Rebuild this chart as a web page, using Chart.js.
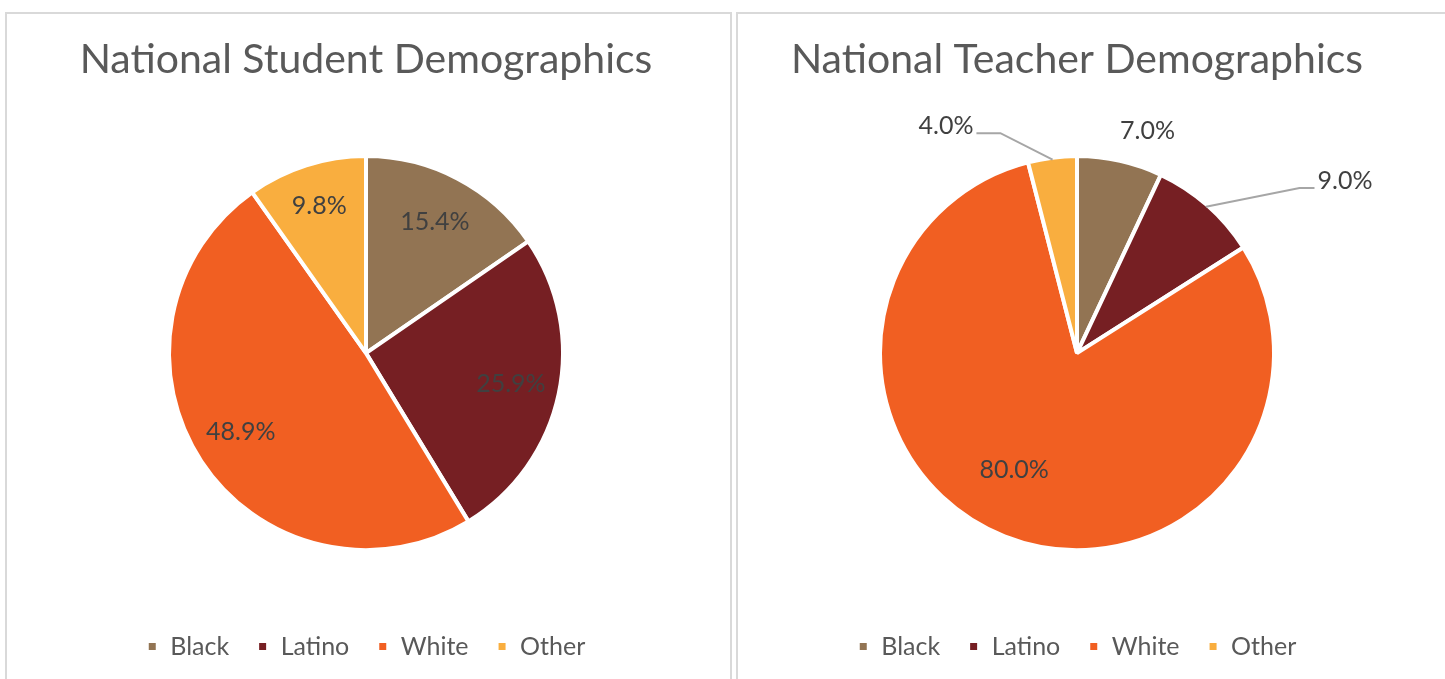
<!DOCTYPE html>
<html>
<head>
<meta charset="utf-8">
<script src="https://cdn.jsdelivr.net/npm/chart.js@4.4.1/dist/chart.umd.min.js"></script>
<style>
  html, body { margin: 0; padding: 0; background: #fff; overflow: hidden; }
  .panel { position: absolute; top: 12px; height: 700px; border: 2px solid #d9d9d9; box-sizing: border-box; }
  #p1 { left: 5px; width: 727px; }
  #p2 { left: 736px; width: 800px; }
  canvas { position: absolute; top: 14px; }
  #student { left: 7px; }
  #teacher { left: 738px; }
</style>
</head>
<body>
<div class="panel" id="p1"></div>
<div class="panel" id="p2"></div>
<canvas id="student"></canvas>
<canvas id="teacher"></canvas>
<script>
const categories = ['Black', 'Latino', 'White', 'Other'];
const studentValues = [15.4, 25.9, 48.9, 9.8];
const teacherValues = [7.0, 9.0, 80.0, 4.0];
const sliceColors = ['#927453', '#761f23', '#f15f22', '#f9ae3f'];

// label placement: r = fraction of radius, da = degrees off the slice middle
const studentPlaces = [
  { r: 0.76, da: 0 },
  { r: 0.76, da: 0 },
  { r: 0.76, da: 1 },
  { r: 0.79, da: 0 }
];
const teacherPlaces = [
  { r: 1.195, da: 5 },
  { r: 1.633, da: 15.9, leader: 15 },
  { r: 0.68, da: 6.7 },
  { r: 1.344, da: -22.8, leader: 24 }
];

const sliceLabels = {
  id: 'sliceLabels',
  afterDatasetsDraw(chart, args, opts) {
    const ctx = chart.ctx;
    const meta = chart.getDatasetMeta(0);
    const values = chart.data.datasets[0].data;
    ctx.save();
    ctx.font = '25px Lato';
    ctx.fillStyle = '#404040';
    ctx.textAlign = 'center';
    ctx.textBaseline = 'middle';
    meta.data.forEach((arc, i) => {
      const p = arc.getProps(['x', 'y', 'startAngle', 'endAngle', 'outerRadius'], true);
      const place = opts.places[i];
      const mid = (p.startAngle + p.endAngle) / 2;
      const a = mid + place.da * Math.PI / 180;
      const R = 195;
      const lx = p.x + Math.cos(a) * R * place.r;
      const ly = p.y + Math.sin(a) * R * place.r;
      const text = values[i].toFixed(1) + '%';
      if (place.leader) {
        const w = ctx.measureText(text).width;
        const side = lx > p.x ? -1 : 1;
        const hx = lx + side * (w / 2 + 3);
        const hy = ly + 7;
        const ex = p.x + Math.cos(mid) * R;
        const ey = p.y + Math.sin(mid) * R;
        ctx.beginPath();
        ctx.strokeStyle = '#a6a6a6';
        ctx.lineWidth = 2;
        ctx.moveTo(hx, hy);
        ctx.lineTo(hx + side * place.leader, hy);
        ctx.lineTo(ex, ey);
        ctx.stroke();
      }
      ctx.fillText(text, lx, ly);
    });
    ctx.restore();
  }
};

function makePie(id, width, title, values, places) {
  const el = document.getElementById(id);
  el.width = width;
  el.height = 665;
  return new Chart(el, {
    type: 'pie',
    data: {
      labels: categories,
      datasets: [{
        data: values,
        backgroundColor: sliceColors,
        borderColor: '#ffffff',
        borderWidth: 4,
        radius: 197
      }]
    },
    options: {
      responsive: false,
      maintainAspectRatio: false,
      animation: false,
      layout: { padding: { top: 0, bottom: 10, left: 0, right: 0 } },
      plugins: {
        title: {
          display: true,
          text: title,
          color: '#595959',
          font: { family: 'Lato', size: 41, weight: 'normal' },
          padding: { top: 21, bottom: 16 }
        },
        legend: {
          position: 'bottom',
          labels: {
            color: '#595959',
            font: { family: 'Lato', size: 25 },
            boxWidth: 11,
            boxHeight: 11,
            padding: 28
          }
        },
        tooltip: { enabled: false },
        sliceLabels: { places: places }
      }
    },
    plugins: [sliceLabels]
  });
}

makePie('student', 718, 'National Student Demographics', studentValues, studentPlaces);
makePie('teacher', 678, 'National Teacher Demographics', teacherValues, teacherPlaces);
</script>
</body>
</html>
